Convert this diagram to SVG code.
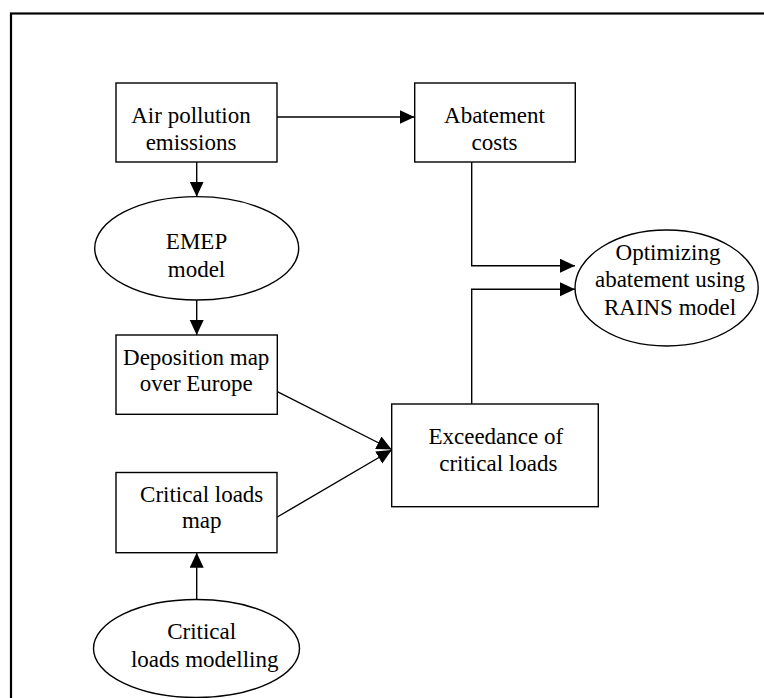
<svg xmlns="http://www.w3.org/2000/svg" width="764" height="698" viewBox="0 0 764 698">
<style>
.box{fill:#fff;stroke:#000;stroke-width:1.4}
.lbl{font-family:"Liberation Serif","Times New Roman",serif;font-size:23px;fill:#000;text-anchor:middle}
.con{fill:none;stroke:#000;stroke-width:1.4}
</style>
<defs>
<marker id="ah" markerUnits="userSpaceOnUse" markerWidth="18" markerHeight="16" refX="15" refY="7" orient="auto">
<path d="M0,0 L15,7 L0,14 Z" fill="#000"/>
</marker>
</defs>
<rect x="0" y="0" width="764" height="698" fill="#fff"/>
<rect id="frame" x="11" y="13.5" width="800" height="720" fill="none" stroke="#000" stroke-width="2.2"/>
<g id="connectors">
<line class="con" x1="277" y1="117" x2="414.5" y2="117" marker-end="url(#ah)"/>
<line class="con" x1="196.7" y1="162" x2="196.7" y2="196.7" marker-end="url(#ah)"/>
<line class="con" x1="196.7" y1="300" x2="196.7" y2="335" marker-end="url(#ah)"/>
<polyline class="con" points="471.7,162 471.7,265.7 575,265.7" marker-end="url(#ah)"/>
<polyline class="con" points="471.7,404 471.7,289.3 575,289.3" marker-end="url(#ah)"/>
<line class="con" x1="277.3" y1="391.7" x2="391.7" y2="449.5" marker-end="url(#ah)"/>
<line class="con" x1="277.3" y1="517" x2="391.7" y2="450" marker-end="url(#ah)"/>
<line class="con" x1="196.7" y1="599.3" x2="196.7" y2="552.7" marker-end="url(#ah)"/>
</g>
<g id="air-pollution">
<rect class="box" x="116" y="83" width="161" height="79"/>
<text class="lbl" x="191" y="123">Air pollution</text>
<text class="lbl" x="191" y="150">emissions</text>
</g>
<g id="abatement-costs">
<rect class="box" x="414.7" y="83" width="160.6" height="79"/>
<text class="lbl" x="494.5" y="123">Abatement</text>
<text class="lbl" x="494.5" y="150">costs</text>
</g>
<g id="emep-model">
<ellipse class="box" cx="196.7" cy="248.3" rx="102" ry="51.7"/>
<text class="lbl" x="196.5" y="249.3">EMEP</text>
<text class="lbl" x="196.5" y="276.7">model</text>
</g>
<g id="deposition-map">
<rect class="box" x="116" y="335" width="161.3" height="79.3"/>
<text class="lbl" x="196.2" y="365">Deposition map</text>
<text class="lbl" x="196.2" y="391">over Europe</text>
</g>
<g id="critical-loads-map">
<rect class="box" x="116" y="472.5" width="161" height="80.2"/>
<text class="lbl" x="201.7" y="501.7">Critical loads</text>
<text class="lbl" x="201.7" y="528.3">map</text>
</g>
<g id="critical-loads-modelling">
<ellipse class="box" cx="196.5" cy="648.5" rx="103" ry="49"/>
<text class="lbl" x="201.7" y="639.3">Critical</text>
<text class="lbl" x="204.7" y="666.7">loads modelling</text>
</g>
<g id="exceedance">
<rect class="box" x="391.7" y="404" width="206.6" height="102.7"/>
<text class="lbl" x="495.8" y="444">Exceedance of</text>
<text class="lbl" x="498.3" y="471">critical loads</text>
</g>
<g id="optimizing">
<ellipse class="box" cx="666.6" cy="288" rx="91.6" ry="58"/>
<text class="lbl" x="668" y="260">Optimizing</text>
<text class="lbl" x="670" y="287.3">abatement using</text>
<text class="lbl" x="670" y="315">RAINS model</text>
</g>
</svg>
